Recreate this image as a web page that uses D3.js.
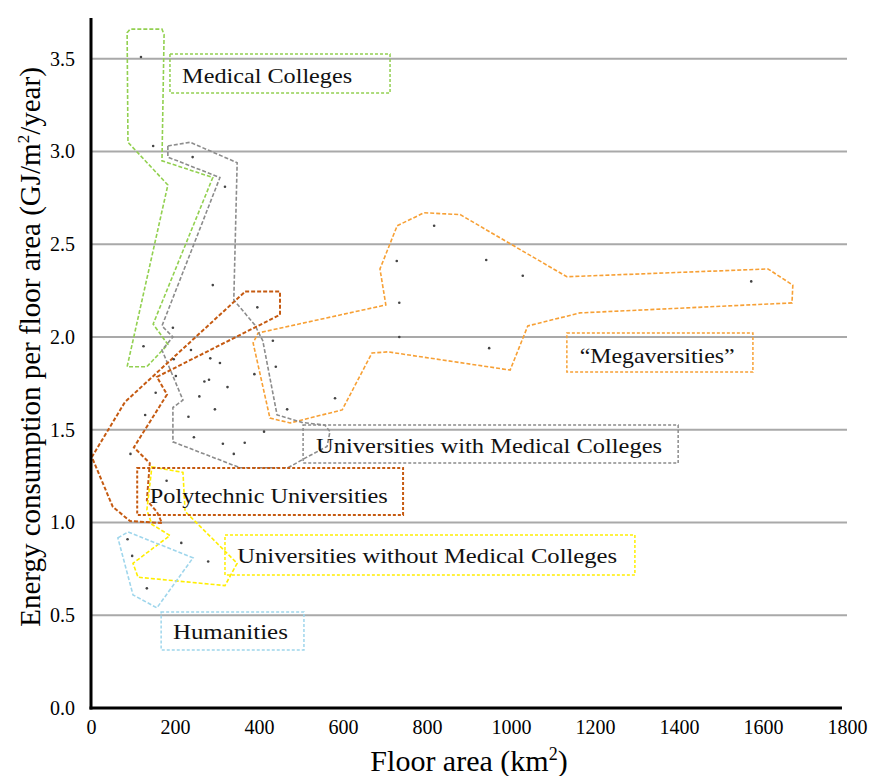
<!DOCTYPE html>
<html>
<head>
<meta charset="utf-8">
<script src="https://cdn.jsdelivr.net/npm/d3@7"></script>
<style>
  body { margin: 0; background: #fff; }
</style>
</head>
<body>
<div class="chart"></div>
<script>
// data points [floor area, energy]
var points = [
    [119, 3.51], [148, 3.03], [242, 2.97], [319, 2.81], [290, 2.28], [396, 2.16],
    [195, 2.05], [125, 1.95], [433, 1.98], [238, 1.93], [197, 1.88], [284, 1.885],
    [307, 1.86], [440, 1.84], [202, 1.79], [389, 1.80], [270, 1.76], [281, 1.77],
    [325, 1.73], [154, 1.70], [258, 1.68], [581, 1.67], [295, 1.61], [467, 1.61],
    [129, 1.58], [232, 1.57], [412, 1.49], [245, 1.46], [314, 1.425], [366, 1.43],
    [340, 1.37], [94, 1.37], [180, 1.225], [87, 0.91], [215, 0.89], [98, 0.82],
    [279, 0.79], [133, 0.645],
    [817, 2.60], [728, 2.41], [941, 2.415], [1028, 2.33], [1572, 2.30], [734, 2.185],
    [734, 2.00], [948, 1.94]
];

// group outlines
var medicalOutline = [[86, 3.64], [93, 3.66], [169, 3.66], [174, 3.63], [169, 2.95], [290, 2.86],
    [148, 2.07], [183, 1.96], [133, 1.84], [86, 1.84], [183, 2.82], [88, 3.05]];
var withMedOutline = [[183, 3.03], [236, 3.05], [348, 2.94], [340, 2.20], [390, 2.065], [409, 1.98],
    [443, 1.58], [502, 1.54], [557, 1.525], [569, 1.49], [562, 1.41], [512, 1.35], [469, 1.295],
    [355, 1.295], [195, 1.435], [195, 1.62], [219, 1.66], [169, 1.93], [195, 2.00], [169, 2.06],
    [307, 2.86], [183, 2.97]];
var polyOutline = [[367, 2.245], [450, 2.245], [450, 2.12], [157, 1.785], [181, 1.69], [102, 1.405],
    [140, 1.32], [133, 1.12], [157, 1.057], [169, 0.997], [93, 1.008], [52, 1.084], [2, 1.353],
    [81, 1.65]];
var withoutMedOutline = [[145, 1.30], [219, 1.27], [224, 1.06], [348, 0.78], [319, 0.66], [112, 0.705],
    [100, 0.78], [188, 0.93], [145, 0.99], [133, 1.067]];
var humanitiesOutline = [[64, 0.917], [88, 0.949], [243, 0.81], [157, 0.54], [100, 0.61]];
var megaOutline = [[729, 2.60], [793, 2.67], [879, 2.66], [1133, 2.325], [1612, 2.367], [1671, 2.28],
    [1669, 2.184], [1164, 2.13], [1040, 2.06], [998, 1.822], [707, 1.92], [669, 1.914], [598, 1.607],
    [474, 1.537], [426, 1.563], [386, 1.968], [398, 2.022], [702, 2.173], [688, 2.367]];

// label boxes [x0, y0, x1, y1], text anchor [x, y], text width in px
var groupNames = ["Medical Colleges", "\u201cMegaversities\u201d", "Universities with Medical Colleges",
    "Polytechnic Universities", "Universities without Medical Colleges", "Humanities"];
var groupColors = ["#92d050", "#f7a035", "#8c8c8c", "#c55a11", "#ffee00", "#9fd6ec"];
var labelBoxes = [[188, 3.526, 712, 3.316], [1133, 2.022, 1576, 1.811], [505, 1.526, 1398, 1.321],
    [110, 1.294, 743, 1.041], [319, 0.933, 1295, 0.717], [167, 0.518, 507, 0.313]];
var labelPos = [[217, 3.37], [1348, 1.86], [536, 1.375], [140, 1.105], [348, 0.782], [195, 0.372]];
var labelWidth = [170, 155, 346, 238, 380, 115];
var outlines = [medicalOutline, megaOutline, withMedOutline, polyOutline, withoutMedOutline, humanitiesOutline];

var xTicks = [0, 200, 400, 600, 800, 1000, 1200, 1400, 1600, 1800];
var yTicks = [0, 0.5, 1.0, 1.5, 2.0, 2.5, 3.0, 3.5];

var W = 872, H = 776;

var x = d3.scaleLinear().domain([0, 1800]).range([91, 847]);
var y = d3.scaleLinear().domain([0, 3.72]).range([708, 18]);

var svg = d3.select(".chart").append("svg")
    .attr("width", W)
    .attr("height", H);

//gridlines
svg.selectAll(".grid")
    .data(yTicks.filter(function (d) { return d > 0; }))
    .enter().append("line")
    .attr("class", "grid")
    .attr("x1", x(0))
    .attr("x2", x(1800))
    .attr("y1", function (d) { return y(d); })
    .attr("y2", function (d) { return y(d); })
    .style("stroke", "#a9a9a9")
    .style("stroke-width", 2);

// axes (labels only)
var xAxis = d3.axisBottom(x).tickValues(xTicks).tickSize(0).tickPadding(12)
    .tickFormat(d3.format("d"));
var yAxis = d3.axisLeft(y).tickValues(yTicks).tickSize(0).tickPadding(16)
    .tickFormat(d3.format(".1f"));

function styleTicks(g) {
    g.select(".domain").remove();
    g.attr("font-family", "Liberation Serif").attr("font-size", 20);
    g.selectAll("text")
        .attr("font-family", "Liberation Serif")
        .attr("font-size", 20)
        .style("fill", "#000");
}

svg.append("g")
    .attr("transform", "translate(0," + y(0) + ")")
    .call(xAxis)
    .call(styleTicks);

svg.append("g")
    .attr("transform", "translate(" + x(0) + ",0)")
    .call(yAxis)
    .call(styleTicks);

// outlines
var line = d3.line()
    .x(function (d) { return x(d[0]); })
    .y(function (d) { return y(d[1]); })
    .curve(d3.curveLinearClosed);

svg.selectAll(".outline")
    .data(outlines)
    .enter().append("path")
    .attr("class", "outline")
    .attr("d", line)
    .style("fill", "none")
    .style("stroke", function (d, i) { return groupColors[i]; })
    .style("stroke-width", function (d, i) { return i == 3 ? 2 : 1.6; })
    .style("stroke-dasharray", "4,2");

// dots
svg.selectAll(".dot")
    .data(points)
    .enter().append("circle")
    .attr("class", "dot")
    .attr("r", 1.3)
    .attr("cx", function (d) { return x(d[0]); })
    .attr("cy", function (d) { return y(d[1]); })
    .style("fill", "#444");

// label boxes
svg.selectAll(".lbox")
    .data(labelBoxes)
    .enter().append("rect")
    .attr("class", "lbox")
    .attr("x", function (d) { return x(d[0]); })
    .attr("y", function (d) { return y(d[1]); })
    .attr("width", function (d) { return x(d[2]) - x(d[0]); })
    .attr("height", function (d) { return y(d[3]) - y(d[1]); })
    .style("fill", "none")
    .style("stroke", function (d, i) { return groupColors[i]; })
    .style("stroke-width", function (d, i) { return i == 3 ? 2 : 1.5; })
    .style("stroke-dasharray", "3,2");

svg.selectAll(".ltext")
    .data(groupNames)
    .enter().append("text")
    .attr("class", "ltext")
    .attr("x", function (d, i) { return x(labelPos[i][0]); })
    .attr("y", function (d, i) { return y(labelPos[i][1]); })
    .attr("text-anchor", function (d, i) { return i == 1 ? "middle" : "start"; })
    .attr("textLength", function (d, i) { return labelWidth[i]; })
    .attr("lengthAdjust", "spacingAndGlyphs")
    .style("font-family", "'Liberation Serif', serif")
    .style("font-size", "22px")
    .style("fill", "#111")
    .text(function (d) { return d; });

// axis lines
svg.append("line")
    .attr("x1", x(0)).attr("x2", x(0))
    .attr("y1", y(3.72)).attr("y2", y(0) + 1.5)
    .style("stroke", "#000").style("stroke-width", 3);
svg.append("line")
    .attr("x1", x(0) - 1.5).attr("x2", x(1788))
    .attr("y1", y(0)).attr("y2", y(0))
    .style("stroke", "#000").style("stroke-width", 3);

// axis titles
var xt = svg.append("text")
    .attr("x", 469)
    .attr("y", 771)
    .attr("text-anchor", "middle")
    .style("font-family", "'Liberation Serif', serif")
    .style("font-size", "30px");
xt.append("tspan").text("Floor area (km");
xt.append("tspan").attr("dy", -11).style("font-size", "18px").text("2");
xt.append("tspan").attr("dy", 11).text(")");

var yt = svg.append("text")
    .attr("transform", "translate(40,347) rotate(-90)")
    .attr("text-anchor", "middle")
    .style("font-family", "'Liberation Serif', serif")
    .style("font-size", "29px");
yt.append("tspan").text("Energy consumption per floor area (GJ/m");
yt.append("tspan").attr("dy", -11).style("font-size", "17px").text("2");
yt.append("tspan").attr("dy", 11).text("/year)");
</script>
</body>
</html>
